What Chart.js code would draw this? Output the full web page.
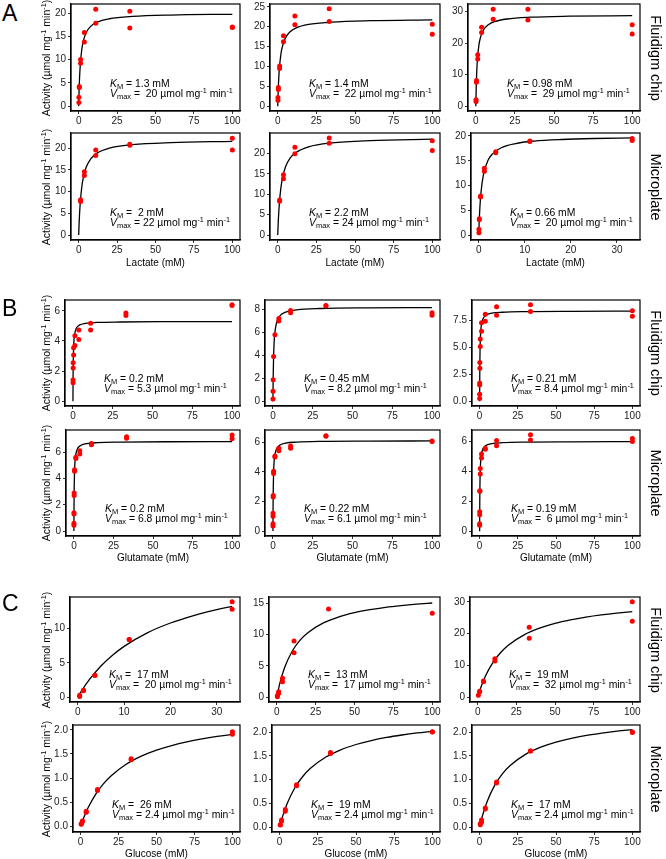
<!DOCTYPE html>
<html>
<head>
<meta charset="utf-8">
<script src="https://cdn.jsdelivr.net/npm/chart.js@4.4.1/dist/chart.umd.min.js"></script>
<style>
html, body { margin: 0; padding: 0; background: #fff; }
body { width: 666px; height: 859px; position: relative; overflow: hidden;
       font-family: "Liberation Sans", Arial, Helvetica, sans-serif; color: #000; }
.cv { position: absolute; }
.lbl { position: absolute; white-space: nowrap; }
.ytitle { font-size: 10.5px; transform: translate(-50%, -50%) rotate(-90deg); }
.side { font-size: 14.5px; transform: translate(-50%, -50%) rotate(90deg); }
.xtitle { font-size: 10px; transform: translate(-50%, -50%); }
.letter { font-size: 23px; line-height: 1; }
.note { font-size: 10.4px; line-height: 10px; }
.sub { font-size: 0.72em; vertical-align: -0.3em; line-height: 0; }
.sup { font-size: 0.7em; vertical-align: 0.55em; line-height: 0; }
</style>
</head>
<body>
<script>
// ---------- tick labels ----------
const xTicks100 = [0, 25, 50, 75, 100];
const xTicks30 = [0, 10, 20, 30];
const yTicks20 = [0, 5, 10, 15, 20];
const yTicks25 = [0, 5, 10, 15, 20, 25];
const yTicks30 = [0, 10, 20, 30];
const yTicks6 = [0, 2, 4, 6];
const yTicks8 = [0, 2, 4, 6, 8];
const yTicks75 = [0, 2.5, 5, 7.5];
const yTicks10 = [0, 5, 10];
const yTicks15 = [0, 5, 10, 15];
const yTicks2 = [0, 0.5, 1, 1.5, 2];

// ---------- fitted curves: substrate (mM) sample points ----------
const fitXLactate = [0, 0.25, 0.5, 1, 2, 3, 5, 8, 12, 20, 35, 60, 100];
const fitXLactate33 = [0, 0.1, 0.25, 0.5, 1, 2, 3, 5, 8, 12, 18, 25, 33.3];
const fitXGlutamate = [0, 0.05, 0.1, 0.2, 0.4, 0.7, 1, 2, 4, 8, 15, 30, 60, 100];
const fitXGlucose = [0, 2, 5, 10, 15, 20, 30, 40, 50, 60, 70, 80, 90, 100];
const fitXGlucose33 = [0, 1, 2.5, 5, 7.5, 10, 15, 20, 25, 30, 33.3];

// ---------- A: lactate ----------
const lacChipX = [0.137, 0.137, 0.41, 0.41, 1.23, 1.23, 3.7, 3.7, 11.1, 11.1, 33.3, 33.3, 100, 100];
const lacChip1Y = [0.8, 1.9, 4.0, 4.2, 9.2, 10.0, 13.8, 15.8, 17.8, 20.8, 16.8, 20.4, 16.9, 17.0];
const lacChip2Y = [1.5, 2.2, 4.2, 4.7, 9.5, 10.1, 16.2, 17.7, 20.5, 22.7, 21.3, 24.5, 18.1, 20.6];
const lacChip3Y = [1.5, 2.1, 7.6, 8.2, 15.0, 16.3, 23.4, 25.0, 27.6, 30.7, 27.3, 30.7, 22.9, 25.8];
const lacPlateX = [1.23, 1.23, 3.7, 3.7, 11.1, 11.1, 33.3, 33.3, 100, 100];
const lacPlate1Y = [7.7, 8.1, 13.7, 14.6, 18.3, 19.6, 20.7, 20.9, 19.6, 22.3];
const lacPlate2Y = [8.3, 8.6, 13.8, 14.8, 19.9, 21.5, 22.5, 23.8, 20.7, 23.1];
const lacPlate3X = [0.046, 0.046, 0.137, 0.137, 0.41, 0.41, 1.23, 1.23, 3.7, 3.7, 11.1, 11.1, 33.3, 33.3];
const lacPlate3Y = [0.5, 1.2, 3.1, 3.3, 7.7, 7.9, 12.9, 13.5, 16.6, 16.8, 18.9, 19.0, 19.1, 19.5];

const lacChip1Fit = [0, 3.23, 5.56, 8.70, 12.12, 13.95, 15.87, 17.20, 18.05, 18.78, 19.28, 19.58, 19.74];
const lacChip2Fit = [0, 3.33, 5.79, 9.17, 12.94, 15.0, 17.19, 18.72, 19.70, 20.56, 21.15, 21.50, 21.70];
const lacChip3Fit = [0, 5.89, 9.80, 14.65, 19.46, 21.86, 24.25, 25.84, 26.81, 27.65, 28.21, 28.53, 28.72];
const lacPlate1Fit = [0, 2.44, 4.4, 7.33, 11.0, 13.2, 15.71, 17.6, 18.86, 20.0, 20.81, 21.29, 21.57];
const lacPlate2Fit = [0, 2.45, 4.44, 7.5, 11.43, 13.85, 16.67, 18.82, 20.28, 21.62, 22.58, 23.15, 23.48];
const lacPlate3Fit = [0, 2.63, 5.49, 8.62, 12.05, 15.04, 16.39, 17.67, 18.48, 18.96, 19.29, 19.49, 19.61];

const lactateKm = ['1.3', '1.4', '0.98', ' 2', '2.2', '0.66'];
const lactateVmax = [' 20', ' 22', ' 29', '22', '24', ' 20'];

// ---------- B: glutamate ----------
const gluChip1X = [0.046, 0.046, 0.137, 0.137, 0.41, 0.41, 1.23, 1.23, 3.7, 3.7, 11.1, 11.1, 33.3, 33.3, 100, 100];
const gluChip1Y = [1.22, 1.4, 2.2, 2.55, 3.07, 3.55, 3.7, 4.35, 4.1, 4.73, 4.73, 5.18, 5.69, 5.85, 6.35, 6.4];
const gluChip2X = [0.015, 0.046, 0.137, 0.41, 1.23, 3.7, 3.7, 11.1, 11.1, 33.3, 33.3, 100, 100];
const gluChip2Y = [0.2, 0.86, 1.86, 3.9, 5.8, 7.0, 7.2, 7.7, 7.9, 8.3, 8.35, 7.5, 7.7];
const gluChip3X = [0.005, 0.015, 0.046, 0.046, 0.137, 0.137, 0.41, 0.41, 1.23, 1.23, 3.7, 3.7, 11.1, 11.1, 33.3, 33.3, 100, 100];
const gluChip3Y = [0.25, 0.65, 1.5, 1.7, 3.06, 3.6, 5.1, 5.8, 6.5, 7.3, 7.45, 8.1, 8.0, 8.8, 8.35, 8.97, 7.9, 8.43];
const gluPlateX = [0.015, 0.015, 0.046, 0.046, 0.137, 0.137, 0.41, 0.41, 1.23, 1.23, 3.7, 3.7, 11.1, 11.1, 33.3, 33.3, 100, 100];
const gluPlate1Y = [0.45, 0.6, 1.3, 1.4, 2.7, 2.9, 4.55, 4.65, 5.5, 5.6, 5.85, 6.1, 6.55, 6.65, 7.05, 7.15, 7.0, 7.3];
const gluPlate2Y = [0.35, 0.5, 1.0, 1.2, 2.3, 2.4, 3.9, 4.05, 5.0, 5.07, 5.43, 5.6, 5.6, 5.75, 6.4, 6.45, 6.05, 6.09];
const gluPlate3Y = [0.4, 0.5, 1.1, 1.3, 2.67, 2.7, 3.83, 4.2, 4.9, 5.16, 5.49, 5.55, 5.71, 6.07, 6.1, 6.45, 6.0, 6.2];

const gluChip1Fit = [0, 1.06, 1.77, 2.65, 3.53, 4.12, 4.42, 4.82, 5.05, 5.17, 5.23, 5.26, 5.28, 5.29];
const gluChip2Fit = [0, 0.82, 1.49, 2.52, 3.86, 4.99, 5.66, 6.69, 7.37, 7.76, 7.96, 8.08, 8.14, 8.16];
const gluChip3Fit = [0, 1.62, 2.71, 4.10, 5.51, 6.46, 6.94, 7.60, 7.98, 8.19, 8.28, 8.34, 8.37, 8.38];
const gluPlate1Fit = [0, 1.36, 2.27, 3.4, 4.53, 5.29, 5.67, 6.18, 6.48, 6.63, 6.71, 6.75, 6.78, 6.79];
const gluPlate2Fit = [0, 1.13, 1.91, 2.90, 3.94, 4.64, 5.0, 5.50, 5.78, 5.94, 6.01, 6.06, 6.08, 6.09];
const gluPlate3Fit = [0, 1.25, 2.07, 3.08, 4.07, 4.72, 5.04, 5.48, 5.73, 5.86, 5.92, 5.96, 5.98, 5.99];

const glutamateKm = ['0.2', '0.45', '0.21', '0.2', '0.22', '0.19'];
const glutamateVmax = ['5.3', '8.2', '8.4', '6.8', '6.1', ' 6'];

// ---------- C: glucose ----------
const glcChip1X = [0.41, 0.41, 1.23, 1.23, 3.7, 3.7, 11.1, 11.1, 33.3, 33.3];
const glcChip1Y = [0.1, 0.3, 0.95, 1.0, 3.16, 3.2, 8.4, 8.4, 12.8, 13.9];
const glcChip2X = [0.41, 0.41, 1.23, 1.23, 3.7, 3.7, 11.1, 11.1, 33.3, 100];
const glcChip2Y = [0.1, 0.3, 0.65, 0.9, 2.5, 3.05, 7.1, 9.0, 14.1, 13.4];
const glcChip3X = [0.41, 1.23, 1.23, 3.7, 3.7, 11.1, 11.1, 33.3, 33.3, 100, 100];
const glcChip3Y = [0.6, 1.7, 1.9, 4.9, 5.1, 11.4, 12.1, 18.5, 22.0, 23.9, 30.0];
const glcPlateX = [0.41, 0.41, 1.23, 1.23, 3.7, 3.7, 11.1, 11.1, 33.3, 33.3, 100, 100];
const glcPlate1Y = [0.04, 0.05, 0.1, 0.11, 0.29, 0.31, 0.74, 0.76, 1.38, 1.4, 1.91, 1.96];
const glcPlate2Y = [0.04, 0.05, 0.12, 0.15, 0.33, 0.37, 0.87, 0.89, 1.55, 1.57, 2.0, 2.01];
const glcPlate3Y = [0.05, 0.07, 0.1, 0.15, 0.38, 0.4, 0.93, 0.95, 1.6, 1.6, 1.99, 2.0];

const glcChip1Fit = [0, 1.11, 2.56, 4.55, 6.12, 7.41, 9.38, 10.81, 11.90, 12.77, 13.24];
const glcChip2Fit = [0, 2.27, 4.72, 7.39, 9.11, 10.30, 11.86, 12.83, 13.49, 13.97, 14.34, 14.62, 14.85, 15.04];
const glcChip3Fit = [0, 3.05, 6.67, 11.03, 14.12, 16.41, 19.59, 21.69, 23.19, 24.30, 25.17, 25.86, 26.42, 26.89];
const glcPlate1Fit = [0, 0.171, 0.387, 0.667, 0.878, 1.043, 1.286, 1.455, 1.579, 1.674, 1.75, 1.811, 1.862, 1.905];
const glcPlate2Fit = [0, 0.229, 0.5, 0.828, 1.059, 1.231, 1.469, 1.627, 1.739, 1.823, 1.888, 1.939, 1.982, 2.017];
const glcPlate3Fit = [0, 0.253, 0.545, 0.889, 1.125, 1.297, 1.532, 1.684, 1.791, 1.870, 1.931, 1.979, 2.019, 2.051];

const glucoseKm = [' 17', ' 13', ' 19', ' 26', ' 19', ' 17'];
const glucoseVmax = [' 20', ' 17', ' 32', '2.4', '2.4', '2.4'];

const sections = ['A', 'B', 'C'];
const substrates = ['Lactate (mM)', 'Glutamate (mM)', 'Glucose (mM)'];
const platforms = ['Fluidigm chip', 'Microplate'];

// ---------- layout (px) ----------
const ROW_TOP = [4, 133, 300, 430, 597, 725];
const ROW_BOTTOM = [111, 240, 406, 536, 702, 832];
const COL_RIGHT = [240, 440, 640];
const COL_LEFT = [[71, 270, 468], [71, 270, 471], [65, 265, 472], [66, 265, 472], [70, 269, 470], [73, 272, 472]];
const LETTER_TOP = [2, 297, 592];
const XTITLE_Y = [262, 557, 853];
const Y_W = 34, PAD_T = 8, PAD_R = 10, X_H = 20;

const X100 = [-5, 105], X33 = [-1.67, 35];

const panels = [
  {r: 0, c: 0, x: lacChipX, y: lacChip1Y, fx: fitXLactate, fy: lacChip1Fit, xr: X100, xt: xTicks100, yr: [-1.05, 21.95], yt: yTicks20, km: lactateKm[0], vm: lactateVmax[0]},
  {r: 0, c: 1, x: lacChipX, y: lacChip2Y, fx: fitXLactate, fy: lacChip2Fit, xr: X100, xt: xTicks100, yr: [-1.2, 25.7], yt: yTicks25, km: lactateKm[1], vm: lactateVmax[1]},
  {r: 0, c: 2, x: lacChipX, y: lacChip3Y, fx: fitXLactate, fy: lacChip3Fit, xr: X100, xt: xTicks100, yr: [-1.5, 32.4], yt: yTicks30, km: lactateKm[2], vm: lactateVmax[2]},
  {r: 1, c: 0, x: lacPlateX, y: lacPlate1Y, fx: fitXLactate, fy: lacPlate1Fit, xr: X100, xt: xTicks100, yr: [-1.15, 23.5], yt: yTicks20, km: lactateKm[3], vm: lactateVmax[3]},
  {r: 1, c: 1, x: lacPlateX, y: lacPlate2Y, fx: fitXLactate, fy: lacPlate2Fit, xr: X100, xt: xTicks100, yr: [-1.2, 25.0], yt: yTicks20, km: lactateKm[4], vm: lactateVmax[4]},
  {r: 1, c: 2, x: lacPlate3X, y: lacPlate3Y, fx: fitXLactate33, fy: lacPlate3Fit, xr: X33, xt: xTicks30, yr: [-0.98, 20.6], yt: yTicks20, km: lactateKm[5], vm: lactateVmax[5]},

  {r: 2, c: 0, x: gluChip1X, y: gluChip1Y, fx: fitXGlutamate, fy: gluChip1Fit, xr: X100, xt: xTicks100, yr: [-0.32, 6.72], yt: yTicks6, km: glutamateKm[0], vm: glutamateVmax[0]},
  {r: 2, c: 1, x: gluChip2X, y: gluChip2Y, fx: fitXGlutamate, fy: gluChip2Fit, xr: X100, xt: xTicks100, yr: [-0.42, 8.82], yt: yTicks8, km: glutamateKm[1], vm: glutamateVmax[1]},
  {r: 2, c: 2, x: gluChip3X, y: gluChip3Y, fx: fitXGlutamate, fy: gluChip3Fit, xr: X100, xt: xTicks100, yr: [-0.45, 9.42], yt: yTicks75, km: glutamateKm[2], vm: glutamateVmax[2]},
  {r: 3, c: 0, x: gluPlateX, y: gluPlate1Y, fx: fitXGlutamate, fy: gluPlate1Fit, xr: X100, xt: xTicks100, yr: [-0.37, 7.67], yt: yTicks6, km: glutamateKm[3], vm: glutamateVmax[3]},
  {r: 3, c: 1, x: gluPlateX, y: gluPlate2Y, fx: fitXGlutamate, fy: gluPlate2Fit, xr: X100, xt: xTicks100, yr: [-0.33, 6.83], yt: yTicks6, km: glutamateKm[4], vm: glutamateVmax[4]},
  {r: 3, c: 2, x: gluPlateX, y: gluPlate3Y, fx: fitXGlutamate, fy: gluPlate3Fit, xr: X100, xt: xTicks100, yr: [-0.32, 6.77], yt: yTicks6, km: glutamateKm[5], vm: glutamateVmax[5]},

  {r: 4, c: 0, x: glcChip1X, y: glcChip1Y, fx: fitXGlucose33, fy: glcChip1Fit, xr: X33, xt: xTicks30, yr: [-0.7, 14.6], yt: yTicks10, km: glucoseKm[0], vm: glucoseVmax[0]},
  {r: 4, c: 1, x: glcChip2X, y: glcChip2Y, fx: fitXGlucose, fy: glcChip2Fit, xr: X100, xt: xTicks100, yr: [-0.75, 16.0], yt: yTicks15, km: glucoseKm[1], vm: glucoseVmax[1]},
  {r: 4, c: 2, x: glcChip3X, y: glcChip3Y, fx: fitXGlucose, fy: glcChip3Fit, xr: X100, xt: xTicks100, yr: [-1.5, 31.5], yt: yTicks30, km: glucoseKm[2], vm: glucoseVmax[2]},
  {r: 5, c: 0, x: glcPlateX, y: glcPlate1Y, fx: fitXGlucose, fy: glcPlate1Fit, xr: X100, xt: xTicks100, yr: [-0.12, 2.1], yt: yTicks2, km: glucoseKm[3], vm: glucoseVmax[3]},
  {r: 5, c: 1, x: glcPlateX, y: glcPlate2Y, fx: fitXGlucose, fy: glcPlate2Fit, xr: X100, xt: xTicks100, yr: [-0.105, 2.15], yt: yTicks2, km: glucoseKm[4], vm: glucoseVmax[4]},
  {r: 5, c: 2, x: glcPlateX, y: glcPlate3Y, fx: fitXGlucose, fy: glcPlate3Fit, xr: X100, xt: xTicks100, yr: [-0.105, 2.15], yt: yTicks2, km: glucoseKm[5], vm: glucoseVmax[5]},
];

Chart.defaults.font.family = "'Liberation Sans', Arial, sans-serif";
Chart.defaults.font.size = 10;
Chart.defaults.color = '#222';

// full box around the plot area, like the panel border in the figure
const boxPlugin = {
  id: 'box',
  afterDraw(chart) {
    const a = chart.chartArea, ctx = chart.ctx;
    ctx.save();
    ctx.strokeStyle = '#000';
    ctx.lineWidth = 1.2;
    ctx.strokeRect(a.left, a.top, a.right - a.left, a.bottom - a.top);
    ctx.restore();
  }
};

function addLabel(cls, html, left, top) {
  const d = document.createElement('div');
  d.className = 'lbl ' + cls;
  d.innerHTML = html;
  d.style.left = left + 'px';
  d.style.top = top + 'px';
  document.body.appendChild(d);
  return d;
}

const nb = s => s.replace(/ /g, '\u00a0');

function makePanel(p) {
  const left = COL_LEFT[p.r][p.c], right = COL_RIGHT[p.c];
  const top = ROW_TOP[p.r], bottom = ROW_BOTTOM[p.r];
  const div = document.createElement('div');
  div.className = 'cv';
  div.style.left = (left - Y_W) + 'px';
  div.style.top = (top - PAD_T) + 'px';
  const cv = document.createElement('canvas');
  cv.width = right - left + Y_W + PAD_R;
  cv.height = bottom - top + PAD_T + X_H;
  div.appendChild(cv);
  document.body.appendChild(div);

  const yDec = p.yt.some(v => !Number.isInteger(v)) ? 1 : 0;
  const axisCommon = {
    type: 'linear',
    grid: {drawOnChartArea: false, drawTicks: true, tickLength: 3, color: '#333', lineWidth: 1},
    border: {display: true, color: '#000', width: 1.2}
  };

  new Chart(cv, {
    type: 'scatter',
    data: {
      datasets: [
        {
          data: p.x.map((v, i) => ({x: v, y: p.y[i]})),
          backgroundColor: '#ff0000', borderWidth: 0, pointRadius: 2.5, order: 0
        },
        {
          data: p.fx.map((v, i) => ({x: v, y: p.fy[i]})),
          showLine: true, borderColor: '#000', borderWidth: 1.3, pointRadius: 0,
          cubicInterpolationMode: 'monotone', fill: false, order: 1
        }
      ]
    },
    options: {
      responsive: false, animation: false, events: [],
      layout: {padding: {top: PAD_T, right: PAD_R, left: 0, bottom: 0}},
      plugins: {legend: {display: false}, tooltip: {enabled: false}},
      scales: {
        x: Object.assign({}, axisCommon, {
          min: p.xr[0], max: p.xr[1],
          afterBuildTicks: a => { a.ticks = p.xt.map(v => ({value: v})); },
          afterFit: s => { s.height = X_H; },
          ticks: {padding: 1, maxRotation: 0, autoSkip: false, callback: v => String(v)}
        }),
        y: Object.assign({}, axisCommon, {
          min: p.yr[0], max: p.yr[1],
          afterBuildTicks: a => { a.ticks = p.yt.map(v => ({value: v})); },
          afterFit: s => { s.width = Y_W; },
          ticks: {padding: 2, autoSkip: false, callback: v => Number(v).toFixed(yDec)}
        })
      }
    },
    plugins: [boxPlugin]
  });

  // K_M / V_max annotation
  const note = '<i>K</i><span class="sub">M</span> = ' + nb(p.km) + ' mM<br>' +
    '<i>V</i><span class="sub">max</span> = ' + nb(p.vm) +
    ' µmol mg<span class="sup">-1</span> min<span class="sup">-1</span>';
  addLabel('note', note, left + 39, bottom - 32);
}

panels.forEach(makePanel);

// titles and labels
const yTitle = 'Activity (µmol mg<span class="sup">-1</span> min<span class="sup">-1</span>)';
for (let r = 0; r < 6; r++) {
  const mid = (ROW_TOP[r] + ROW_BOTTOM[r]) / 2;
  addLabel('ytitle', yTitle, 46, mid);
  addLabel('side', platforms[r % 2], 656, mid);
}
for (let s = 0; s < 3; s++) {
  addLabel('letter', sections[s], 2, LETTER_TOP[s]);
  for (let c = 0; c < 3; c++) {
    const cx = (COL_LEFT[2 * s + 1][c] + COL_RIGHT[c]) / 2;
    addLabel('xtitle', substrates[s], cx, XTITLE_Y[s]);
  }
}
</script>
</body>
</html>
